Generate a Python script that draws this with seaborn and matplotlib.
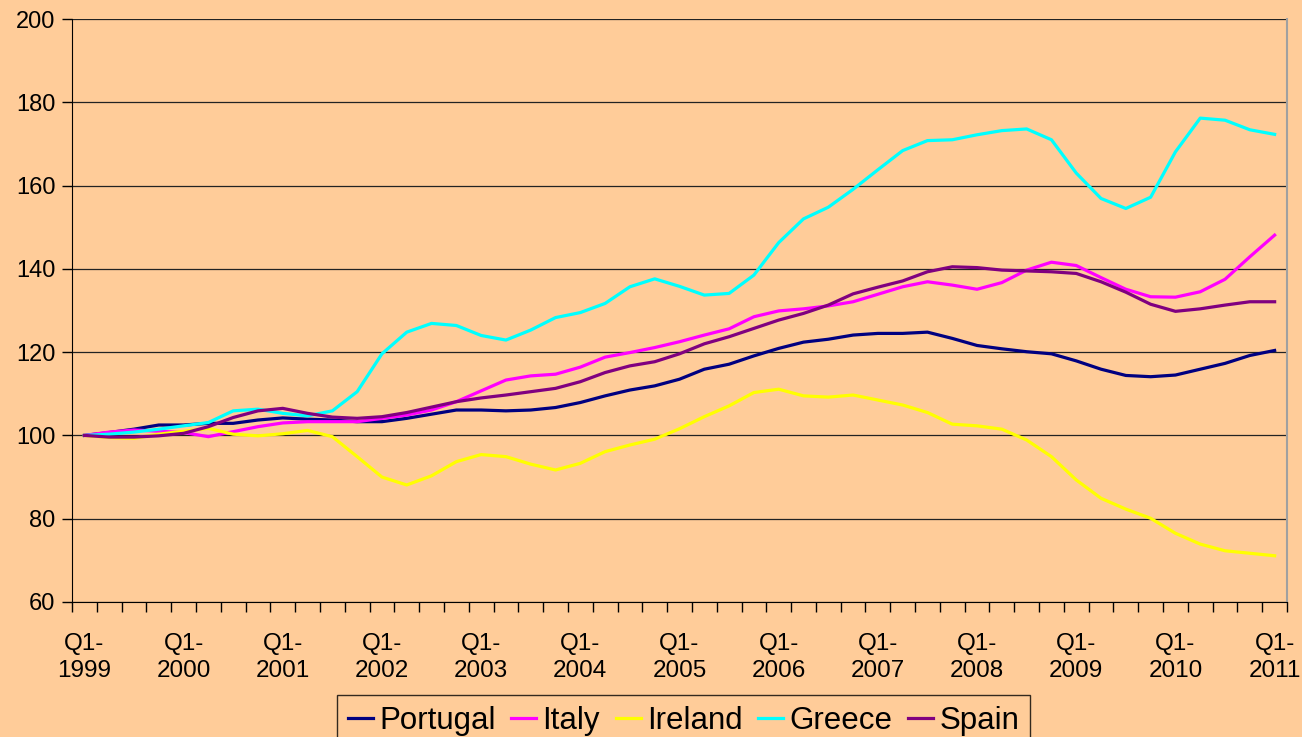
import numpy as np
import matplotlib.pyplot as plt
import seaborn as sns
import pandas as pd

BG = "#FFCC99"
YEARS = list(range(1999, 2012))
COUNTRIES = ["Portugal", "Italy", "Ireland", "Greece", "Spain"]
COLORS = {
    "Portugal": "#000080",
    "Italy": "#FF00FF",
    "Ireland": "#FFFF00",
    "Greece": "#00FFFF",
    "Spain": "#800080",
}

# quarterly index, Q1-1999 = 100 (Q1-1999 ... Q1-2011)
portugal = [100, 100.7, 101.5, 102.5, 102.5, 102.9, 102.9, 103.7, 104.2, 103.9,
            103.7, 103.3, 103.3, 104.1, 105.1, 106.1, 106.1, 105.9, 106.1, 106.7,
            107.9, 109.5, 110.9, 111.9, 113.5, 115.9, 117.1, 119.1, 120.9, 122.4,
            123.1, 124.1, 124.5, 124.5, 124.8, 123.3, 121.6, 120.8, 120.1, 119.6,
            117.9, 115.9, 114.4, 114.1, 114.5, 115.9, 117.3, 119.2, 120.4]
italy = [100, 100.8, 101.3, 101.0, 100.7, 99.7, 100.9, 102.1, 103.0, 103.3,
         103.3, 103.3, 104.1, 104.9, 106.1, 108.1, 110.7, 113.3, 114.3, 114.7,
         116.4, 118.8, 119.9, 121.1, 122.5, 124.1, 125.6, 128.5, 129.9, 130.4,
         131.1, 132.1, 133.9, 135.7, 136.9, 136.1, 135.1, 136.7, 139.7, 141.6,
         140.8, 137.9, 135.1, 133.3, 133.2, 134.5, 137.5, 142.9, 148.1]
ireland = [100, 99.5, 99.3, 100.3, 101.0, 101.7, 100.3, 99.9, 100.4, 101.2,
           99.7, 94.9, 90.0, 88.1, 90.3, 93.7, 95.4, 94.9, 93.1, 91.7,
           93.3, 96.1, 97.7, 99.1, 101.6, 104.5, 107.1, 110.3, 111.1, 109.5,
           109.2, 109.7, 108.5, 107.3, 105.5, 102.7, 102.3, 101.5, 98.9, 94.9,
           89.3, 84.9, 82.3, 80.1, 76.5, 73.9, 72.3, 71.7, 71.1]
greece = [100, 100.3, 100.8, 101.5, 102.3, 103.1, 105.9, 106.3, 105.3, 104.7,
          105.9, 110.5, 119.6, 124.8, 126.9, 126.4, 124.0, 122.9, 125.3, 128.3,
          129.5, 131.7, 135.7, 137.6, 135.8, 133.7, 134.1, 138.5, 146.3, 152.0,
          154.8, 159.1, 163.8, 168.4, 170.8, 171.0, 172.2, 173.2, 173.6, 171.0,
          163.0, 156.9, 154.5, 157.2, 168.1, 176.2, 175.7, 173.4, 172.3]
spain = [100, 99.6, 99.6, 99.9, 100.5, 102.1, 104.3, 105.9, 106.5, 105.3,
         104.4, 104.1, 104.5, 105.5, 106.8, 108.1, 109.0, 109.7, 110.5, 111.3,
         112.9, 115.1, 116.7, 117.7, 119.6, 122.0, 123.7, 125.7, 127.7, 129.3,
         131.3, 134.0, 135.6, 137.1, 139.3, 140.5, 140.3, 139.7, 139.5, 139.3,
         138.9, 136.9, 134.4, 131.5, 129.8, 130.4, 131.3, 132.1, 132.1]

series = dict(zip(COUNTRIES, [portugal, italy, ireland, greece, spain]))
n = len(portugal)
df = pd.concat([
    pd.DataFrame({"q": np.arange(n), "value": vals, "country": name})
    for name, vals in series.items()
])

plt.rcParams["font.family"] = ["Liberation Sans", "DejaVu Sans"]
fig = plt.figure(figsize=(13.02, 7.37), dpi=100, facecolor=BG)
ax = fig.add_axes([0.0553, 0.1832, 0.9332, 0.791])
ax.set_facecolor(BG)

sns.lineplot(df, x="q", y="value", hue="country", hue_order=COUNTRIES,
             palette=COLORS, linewidth=2.3, ax=ax, legend=True)

ax.set_xlim(-0.5, n - 0.5)
ax.set_ylim(60, 200)
ax.set_yticks(range(60, 201, 20))
ax.grid(axis="y", color="#222222", linewidth=0.9)
ax.set_axisbelow(True)

ax.set_xticks(np.arange(0, n, 4))
ax.set_xticklabels([f"Q1-\n{y}" for y in YEARS])
ax.set_xticks(np.arange(-0.5, n, 1), minor=True)
ax.tick_params(axis="x", which="major", length=0, pad=22, labelsize=17.5)
ax.tick_params(axis="x", which="minor", length=7, width=1, color="black")
ax.tick_params(axis="y", length=7, width=1, pad=5, labelsize=17)
for lab in ax.get_xticklabels():
    lab.set_linespacing(1.3)

ax.set_xlabel("")
ax.set_ylabel("")
ax.spines["top"].set_visible(False)
ax.spines["right"].set_color("#A0A0A0")
ax.spines["right"].set_linewidth(1.5)
ax.spines["left"].set_color("black")
ax.spines["bottom"].set_color("black")

handles, labels = ax.get_legend_handles_labels()
ax.get_legend().remove()
leg = fig.legend(handles, labels, loc="upper center", bbox_to_anchor=(0.525, 0.057),
                 ncol=5, frameon=True, fontsize=22.5, handlelength=0.8,
                 handletextpad=0.2, columnspacing=0.5, borderpad=0.35,
                 borderaxespad=0, fancybox=False)
leg.get_frame().set_edgecolor("black")
leg.get_frame().set_facecolor(BG)
leg.get_frame().set_linewidth(1)

fig.savefig("out.png", dpi=100, facecolor=BG)
